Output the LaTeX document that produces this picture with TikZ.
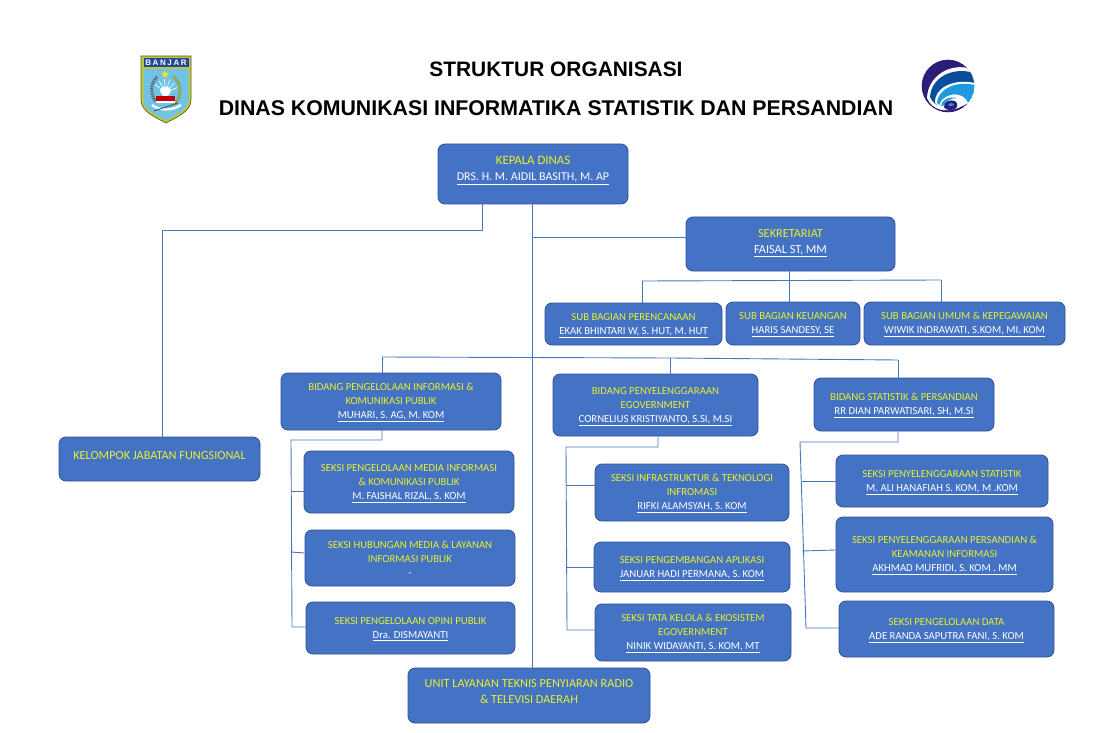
\documentclass[tikz,border=0pt]{standalone}
\usepackage{fontspec}
\usetikzlibrary{shapes.geometric}
\setmainfont{Carlito}
\newfontfamily\titlefont{Liberation Sans}
\definecolor{boxfill}{HTML}{4472C4}
\definecolor{boxline}{HTML}{2F528F}
\definecolor{linkc}{HTML}{4A76B8}
\definecolor{headc}{HTML}{E8F22A}
\definecolor{kdark}{HTML}{2C1E78}
\definecolor{kmid}{HTML}{0B4E9E}
\definecolor{klight}{HTML}{1F9BDD}
\definecolor{bfield}{HTML}{6FC4E6}
\definecolor{bbanner}{HTML}{1F4A96}
\definecolor{bframe}{HTML}{C9C23A}
\definecolor{bedge}{HTML}{3E6A3A}
\tikzset{
  orgbox/.style={draw=boxline,fill=boxfill,rounded corners=7pt,line width=0.8pt,inner sep=0pt,align=center,font=\fontsize{10.75}{14}\selectfont},
  link/.style={draw=linkc,line width=0.9pt},
  titletext/.style={font=\titlefont\bfseries\fontsize{21.3}{24}\selectfont,inner sep=0pt}
}
\newcommand{\hd}[1]{\textcolor{headc}{#1}}
\newcommand{\nm}[1]{\textcolor{white}{\underline{#1}}}
\newcommand{\bigf}{\fontsize{12.3}{16}\selectfont}
\newcommand{\bx}[6]{\node[orgbox,minimum width=#4pt,minimum height=#5pt] (#1) at (#2+#4/2,#3+#5/2) {\rule{0pt}{9.6pt}#6};}
\begin{document}
\begin{tikzpicture}[x=1pt,y=-1pt]
\useasboundingbox (0,0) rectangle (1104,733);
% titles
\node[titletext,font=\titlefont\bfseries\fontsize{20.9}{24}\selectfont] (t1) at (556,69) {STRUKTUR ORGANISASI};
\node[titletext] (t2) at (556,108) {DINAS KOMUNIKASI INFORMATIKA STATISTIK DAN PERSANDIAN};
% boxes
\bx{kd}{438}{144}{190}{60}{\fontsize{12.8}{16}\selectfont\hd{KEPALA DINAS}\\[2pt]\fontsize{12}{16}\selectfont\nm{DRS. H. M. AIDIL BASITH, M. AP}\\[-2pt]}
\bx{sek}{686}{217}{209}{54}{\bigf\hd{SEKRETARIAT}\\[2pt]\bigf\nm{FAISAL ST, MM}\\[-7pt]}
\bx{sb1}{545}{303}{177}{42}{\hd{SUB BAGIAN PERENCANAAN}\\\nm{EKAK BHINTARI W, S. HUT, M. HUT}}
\bx{sb2}{726}{302}{134}{43}{\hd{SUB BAGIAN KEUANGAN}\\\nm{HARIS SANDESY, SE}}
\bx{sb3}{864}{302}{201}{43}{\hd{SUB BAGIAN UMUM \& KEPEGAWAIAN}\\\nm{WIWIK INDRAWATI, S.KOM, MI. KOM}}
\bx{bd1}{281}{373}{220}{57}{\hd{BIDANG PENGELOLAAN INFORMASI \&}\\\hd{KOMUNIKASI PUBLIK}\\\nm{MUHARI, S. AG, M. KOM}}
\bx{bd2}{553}{374}{205}{62}{\hd{BIDANG PENYELENGGARAAN}\\\hd{EGOVERNMENT}\\\nm{CORNELIUS KRISTIYANTO, S.SI, M.SI}}
\bx{bd3}{814}{378}{180}{53}{\hd{BIDANG STATISTIK \& PERSANDIAN}\\\nm{RR DIAN PARWATISARI, SH, M.SI}}
\bx{jf}{59}{437}{201}{44}{\bigf\raisebox{7pt}{\hd{KELOMPOK JABATAN FUNGSIONAL}}}
\bx{s11}{304}{451}{210}{62}{\hd{SEKSI PENGELOLAAN MEDIA INFORMASI}\\\hd{\& KOMUNIKASI PUBLIK}\\\nm{M. FAISHAL RIZAL, S. KOM}}
\bx{s12}{305}{530}{210}{56}{\hd{SEKSI HUBUNGAN MEDIA \& LAYANAN}\\\hd{INFORMASI PUBLIK}\\\textcolor{white}{-}}
\bx{s13}{306}{602}{209}{52}{\hd{SEKSI PENGELOLAAN OPINI PUBLIK}\\\nm{Dra. DISMAYANTI}}
\bx{s21}{595}{464}{194}{57}{\hd{SEKSI INFRASTRUKTUR \& TEKNOLOGI}\\\hd{INFROMASI}\\\nm{RIFKI ALAMSYAH, S. KOM}}
\bx{s22}{594}{542}{196}{50}{\hd{SEKSI PENGEMBANGAN APLIKASI}\\\nm{JANUAR HADI PERMANA, S. KOM}}
\bx{s23}{595}{604}{196}{57}{\hd{SEKSI TATA KELOLA \& EKOSISTEM}\\\hd{EGOVERNMENT}\\\nm{NINIK WIDAYANTI, S. KOM, MT}}
\bx{s31}{836}{455}{212}{52}{\hd{SEKSI PENYELENGGARAAN STATISTIK}\\\nm{M. ALI HANAFIAH S. KOM, M .KOM}}
\bx{s32}{836}{517}{217}{75}{\hd{SEKSI PENYELENGGARAAN PERSANDIAN \&}\\\hd{KEAMANAN INFORMASI}\\\nm{AKHMAD MUFRIDI, S. KOM . MM}}
\bx{s33}{839}{601}{215}{56}{\hd{SEKSI PENGELOLAAN DATA}\\\nm{ADE RANDA SAPUTRA FANI, S. KOM}}
\bx{ult}{408}{668}{242}{55}{\bigf\hd{UNIT LAYANAN TEKNIS PENYIARAN RADIO}\\[1.5pt]\bigf\hd{\& TELEVISI DAERAH}\\[-4pt]}
% junctions
\coordinate (j1) at (482,230);
\coordinate (j1b) at (162,230);
\coordinate (m1) at (532,237);
\coordinate (h1) at (642,281);
\coordinate (h2) at (789,281);
\coordinate (h3) at (941,280);
\coordinate (b1) at (382,357);
\coordinate (b2) at (670,358);
\coordinate (b3) at (898,360);
\coordinate (c1) at (382,440);
\coordinate (c1l) at (291,440);
\coordinate (c2) at (658,447);
\coordinate (c2l) at (566,447);
\coordinate (c3) at (898,442);
\coordinate (c3l) at (800,442);
% links
\draw[link] (kd.south -| j1) -- (j1) -- (j1b) -- (jf.north -| j1b);
\draw[link] (kd.south -| m1) -- (ult.north -| m1);
\draw[link] (m1) -- (sek.west |- m1);
\draw[link] (sek.south -| h2) -- (sb2.north -| h2);
\draw[link] (h1) -- (h3);
\draw[link] (h1) -- (sb1.north -| h1);
\draw[link] (h3) -- (sb3.north -| h3);
\draw[link] (b1) -- (b2) -- (b3);
\draw[link] (b1) -- (bd1.north -| b1);
\draw[link] (b2) -- (bd2.north -| b2);
\draw[link] (b3) -- (bd3.north -| b3);
\draw[link] (bd1.south -| c1) -- (c1) -- (c1l) -- (292,627) -- (s13.west |- 0,627);
\draw[link] (291,491) -- (s11.west |- 0,491);
\draw[link] (291,552) -- (s12.west |- 0,553);
\draw[link] (bd2.south -| c2) -- (c2) -- (c2l) -- (567,630) -- (s23.west |- 0,630);
\draw[link] (566,485) -- (s21.west |- 0,485);
\draw[link] (566,567) -- (s22.west |- 0,567);
\draw[link] (bd3.south -| c3) -- (c3) -- (c3l) -- (806,628) -- (s33.west |- 0,628);
\draw[link] (802,481) -- (s31.west |- 0,481);
\draw[link] (802,551) -- (s32.west |- 0,550);
% Banjar emblem
\filldraw[draw=bedge,line width=0.7pt,fill=bframe] (141,56) -- (191,56) -- (191,100) .. controls (191,112) and (175,118) .. (166,123) .. controls (157,118) and (141,112) .. (141,100) -- cycle;
\fill[bfield] (143.5,69) -- (188.5,69) -- (188.5,100) .. controls (188.5,110) and (174,116) .. (166,120) .. controls (158,116) and (143.5,110) .. (143.5,100) -- cycle;
\fill[bbanner] (143.5,58) rectangle (188.5,67.5);
\node[font=\titlefont\bfseries\fontsize{8}{8}\selectfont,text=white,inner sep=0pt] (bj) at (166,62.8) {B\kern1.6pt A\kern1.6pt N\kern1.6pt J\kern1.6pt A\kern1.6pt R};
\node[star,star points=5,star point ratio=2.4,fill=yellow!90!orange,inner sep=0pt,minimum size=8pt] (st) at (165,74.5) {};
\draw[yellow!60!black!85!green,line width=3pt,dash pattern=on 1.5pt off .6pt] (173,76) .. controls (182,84) and (182,97) .. (174,105);
\draw[black!60,line width=3pt,dash pattern=on 1.6pt off .9pt] (157,77) .. controls (150,84) and (150,94) .. (156,102);
\foreach \a in {215,240,265,290,315,340}{\draw[white,line width=0.6pt] (165.5,92) -- ++(\a:13);}
\fill[white] (160,91) .. controls (160,85) and (171,85) .. (171,91) -- (168,96) -- (163,96) -- cycle;
\fill[red!75!black] (156,96) rectangle (175,101);
\fill[white] (156,101) rectangle (175,103.5);
\draw[white,line width=2.2pt] (152,105) .. controls (160,111) and (172,111) .. (181,105);
\draw[black!70,line width=0.8pt] (154,111) -- (178,103);
% Kominfo logo
\begin{scope}
\clip (948,86) circle (26.3);
\fill[kdark] (948,86) circle (26.3);
\fill[white] (927,98) .. controls (928,76) and (950,62) .. (972,69) -- (980,90) -- (968,103) -- (958,108) .. controls (945,113) and (932,110) .. (927,98) -- cycle;
\fill[kmid] (930,97) .. controls (931,79) and (950,66) .. (975,73) -- (978,90) -- (968,102) -- (958,107) .. controls (946,110) and (934,107) .. (930,97) -- cycle;
\fill[white] (935,103) .. controls (934,90) and (950,78) .. (975,83) -- (976,92) -- (968,103) -- (958,107) -- (940,108) -- cycle;
\fill[klight] (937,103) .. controls (937,92) and (952,80) .. (975,85) .. controls (975,92) and (972,98) .. (968,103) .. controls (966,96) and (956,92) .. (948,96) .. controls (943,98) and (940,101) .. (940,105) -- cycle;
\fill[white] (940,105) .. controls (940,100) and (948,94) .. (956,95) .. controls (961,96) and (966,99) .. (968,103) -- (958,108) -- (944,109) -- cycle;
\fill[klight] (941,106) .. controls (941,100) and (949,96) .. (957,98) .. controls (951,98) and (946,101) .. (946,105) -- cycle;
\fill[kdark] (944,107) .. controls (944,102) and (950,99) .. (955,101) .. controls (958,103) and (958,107) .. (955,109) .. controls (951,111) and (945,110) .. (944,107) -- cycle;
\fill[klight] (948,105) .. controls (949,103) and (952,102) .. (954,104) .. controls (954,106) and (951,107) .. (948,105) -- cycle;
\end{scope}
\end{tikzpicture}
\end{document}
